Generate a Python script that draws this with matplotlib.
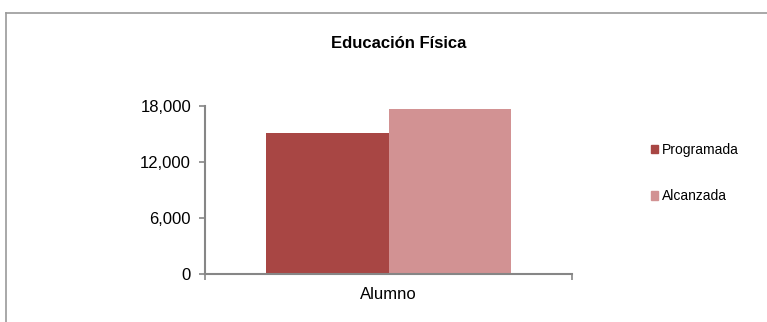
import matplotlib
matplotlib.use("Agg")
import matplotlib.pyplot as plt
from matplotlib.lines import Line2D
from matplotlib.patches import Patch
from matplotlib.ticker import FuncFormatter

categories = ["Alumno"]
series_names = ["Programada", "Alcanzada"]
programada = [15100]
alcanzada = [17650]
yticks = [0, 6000, 12000, 18000]
title = "Educación Física"

colors = ["#A84644", "#D29293"]
axis_gray = "#868686"

plt.rcParams['font.family'] = ['Liberation Sans', 'DejaVu Sans']

W, H = 767, 322
fig = plt.figure(figsize=(W/100, H/100), dpi=100)
ax = fig.add_axes([205/W, 1-274.3/H, (572-205)/W, (274.3-105.7)/H])

bw = 0.335
xs = list(range(len(categories)))
ax.bar([x - bw/2 for x in xs], programada, width=bw, color=colors[0], label=series_names[0])
ax.bar([x + bw/2 for x in xs], alcanzada, width=bw, color=colors[1], label=series_names[1])

ax.set_xlim(-0.5, len(categories) - 0.5)
ax.set_ylim(0, 18000)
ax.set_yticks(yticks)
ax.yaxis.set_major_formatter(FuncFormatter(lambda v, p: f"{int(v):,}"))
ax.tick_params(axis='y', length=4, color=axis_gray, width=1.2, labelsize=12, pad=6)

ax.set_xticks(xs)
ax.set_xticklabels(categories, fontsize=12)
ax.tick_params(axis='x', which='major', length=0, pad=9)
ax.set_xticks([-0.5 + i for i in range(len(categories) + 1)], minor=True)
ax.tick_params(axis='x', which='minor', length=4, color=axis_gray, width=1.2)

for s in ['top', 'right']:
    ax.spines[s].set_visible(False)
for s in ['left', 'bottom']:
    ax.spines[s].set_color(axis_gray)
    ax.spines[s].set_linewidth(1.5)

fig.text(399/W, 1-43/H, title, ha='center', va='center', fontsize=12, fontweight='bold')

handles = [Patch(color=c) for c in colors]
fig.legend(handles, series_names, loc='center left', bbox_to_anchor=(638/W, 1-173/H),
           frameon=False, fontsize=10, handlelength=0.55, handleheight=0.55,
           handletextpad=0.3, labelspacing=2.35)

# outer chart frame
fig.add_artist(Line2D([6/W, 1], [1-13/H, 1-13/H], color='#9a9a9a', lw=1.2, transform=fig.transFigure))
fig.add_artist(Line2D([6/W, 6/W], [0, 1-13/H], color='#9a9a9a', lw=1.2, transform=fig.transFigure))

fig.savefig("out.png", dpi=100)
